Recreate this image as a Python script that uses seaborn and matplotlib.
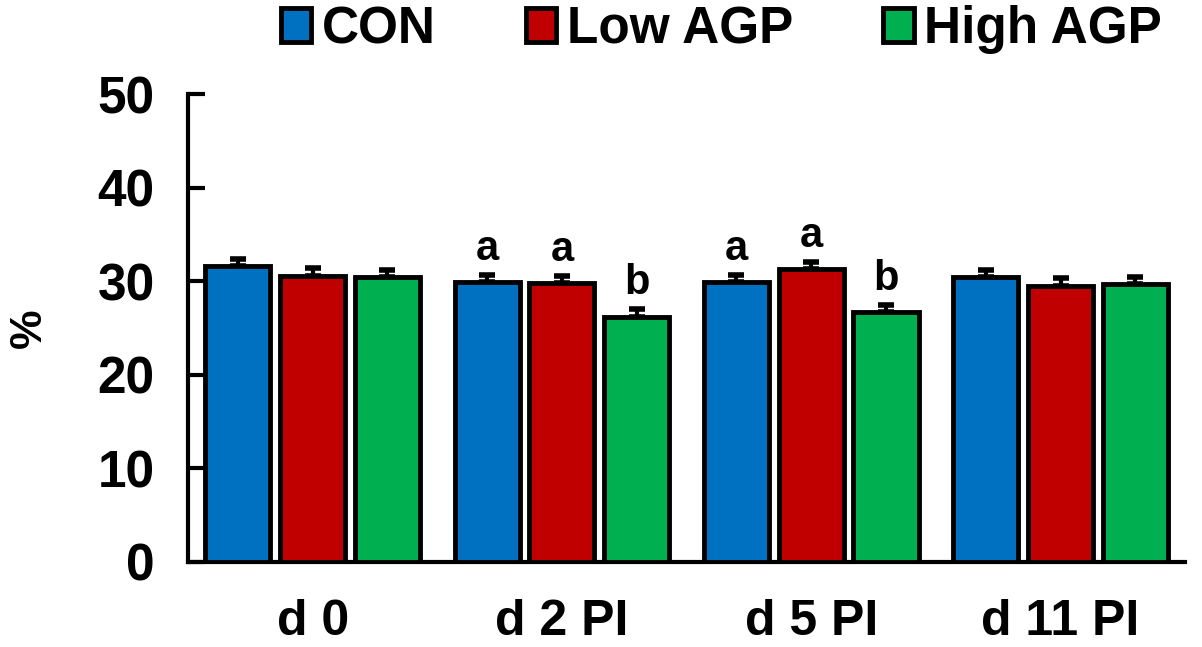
import matplotlib
matplotlib.use('Agg')
import matplotlib.pyplot as plt
import seaborn as sns
import numpy as np
import pandas as pd

# Data
days = ['d 0', 'd 2 PI', 'd 5 PI', 'd 11 PI']
groups = ['CON', 'Low AGP', 'High AGP']
con = [31.6, 29.9, 29.9, 30.4]
low_agp = [30.6, 29.8, 31.3, 29.5]
high_agp = [30.4, 26.2, 26.7, 29.7]
con_err = [0.8, 0.8, 0.8, 0.8]
low_err = [0.8, 0.8, 0.8, 0.8]
high_err = [0.8, 0.8, 0.8, 0.8]
letters_con = ['', 'a', 'a', '']
letters_low = ['', 'a', 'a', '']
letters_high = ['', 'b', 'b', '']
colors = ['#0070C0', '#C00000', '#00B050']

df = pd.DataFrame({
    'day': days * 3,
    'group': [g for g in groups for _ in days],
    'value': con + low_agp + high_agp,
    'err': con_err + low_err + high_err,
    'letter': letters_con + letters_low + letters_high,
})

sns.set_style('white')
plt.rcParams['font.family'] = ['Liberation Sans', 'DejaVu Sans']
plt.rcParams['font.weight'] = 'bold'
plt.rcParams['text.color'] = 'black'
plt.rcParams['axes.labelcolor'] = 'black'
plt.rcParams['xtick.color'] = 'black'
plt.rcParams['ytick.color'] = 'black'

fig = plt.figure(figsize=(12.02, 6.47), dpi=100)
ax = fig.add_axes([0.1564, 0.1314, 0.8296, 0.7233])

sns.barplot(data=df, x='day', y='value', hue='group', order=days, hue_order=groups,
            palette=colors, errorbar=None, width=0.9, gap=0.13,
            edgecolor='black', linewidth=3.5, saturation=1, ax=ax, zorder=3)

# error bars and letters on top of the library's bars
bars = [p for p in ax.patches if p.get_height() > 0][:len(df)]
for bar, (_, row) in zip(bars, df.iterrows()):
    cx = bar.get_x() + bar.get_width() / 2
    top = bar.get_height()
    ax.errorbar(cx, top, yerr=[[0], [row['err']]], fmt='none', ecolor='black',
                elinewidth=3, capsize=6, capthick=4, zorder=2)
    if row['letter']:
        ax.text(cx, top + row['err'] + 1.6, row['letter'], ha='center', va='baseline',
                fontsize=30, fontweight='bold', color='black')

ax.set_ylim(0, 50)
ax.set_xlim(-0.5, 3.5)
ax.set_yticks([0, 10, 20, 30, 40, 50])
ax.set_xlabel('')
ax.set_ylabel('%', fontsize=32, fontweight='bold', labelpad=34)
sns.despine(ax=ax)
for s in ['left', 'bottom']:
    ax.spines[s].set_linewidth(3)
    ax.spines[s].set_color('black')
ax.tick_params(axis='y', left=True, direction='in', length=12, width=3, pad=24, labelsize=37)
ax.tick_params(axis='x', length=0, pad=27, labelsize=36)
for lab in ax.get_xticklabels() + ax.get_yticklabels():
    lab.set_fontweight('bold')

ax.legend(loc='center', bbox_to_anchor=(0.6, 0.954), bbox_transform=fig.transFigure,
          ncol=3, frameon=False, fontsize=37, handlelength=0.6, handleheight=0.65,
          handletextpad=0.2, columnspacing=1.75, borderaxespad=0)
for t in ax.get_legend().get_texts():
    t.set_fontweight('bold')

fig.savefig('out.png', dpi=100)
